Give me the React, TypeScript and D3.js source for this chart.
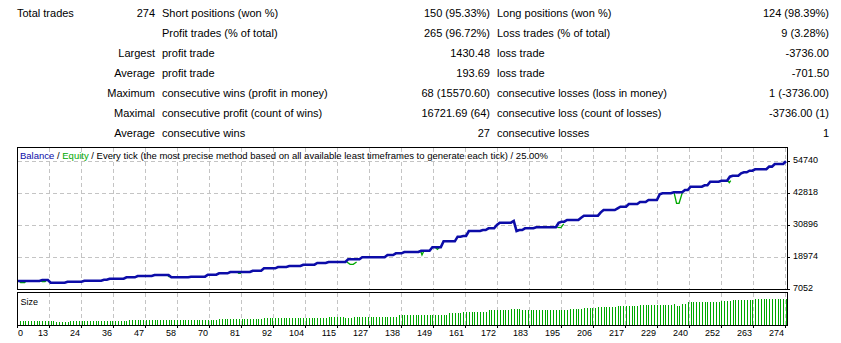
import React from 'react';
import * as d3 from 'd3';

// ---------- summary table ----------
const col0Left = ['Total trades', '', '', '', '', '', ''];
const col1Right = ['274', '', 'Largest', 'Average', 'Maximum', 'Maximal', 'Average'];
const col2Labels = [
  'Short positions (won %)',
  'Profit trades (% of total)',
  'profit trade',
  'profit trade',
  'consecutive wins (profit in money)',
  'consecutive profit (count of wins)',
  'consecutive wins',
];
const col2Values = ['150 (95.33%)', '265 (96.72%)', '1430.48', '193.69', '68 (15570.60)', '16721.69 (64)', '27'];
const col3Labels = [
  'Long positions (won %)',
  'Loss trades (% of total)',
  'loss trade',
  'loss trade',
  'consecutive losses (loss in money)',
  'consecutive loss (count of losses)',
  'consecutive losses',
];
const col3Values = ['124 (98.39%)', '9 (3.28%)', '-3736.00', '-701.50', '1 (-3736.00)', '-3736.00 (1)', '1'];

// ---------- chart data ----------
const yTicks = [7052, 18974, 30896, 42818, 54740];
const xTickLabels = ['0', '13', '24', '36', '47', '58', '70', '81', '92', '104', '115', '127', '138', '149', '161', '172', '183', '195', '206', '217', '229', '240', '252', '263', '274'];
const totalTrades = 274;

// balance levels: trade index where a level starts, and the balance value
const balTrade = [0, 9, 12, 18, 24, 31, 33, 39, 43, 49, 55, 62, 68, 72, 76, 84, 88, 93, 97, 102, 107, 111, 118, 123, 132, 135, 138, 144, 148, 152, 157, 159, 161, 166, 168, 171, 172, 177, 178, 179, 181, 185, 193, 194, 196, 201, 202, 208, 209, 214, 215, 218, 222, 225, 229, 230, 234, 238, 240, 245, 247, 251, 254, 255, 258, 259, 261, 263, 268, 270, 274];
const balValue = [10030, 10400, 9400, 9770, 10140, 10520, 10890, 11410, 11900, 12270, 11450, 11640, 12380, 12900, 13390, 13870, 14760, 15250, 15620, 16100, 16740, 17110, 18120, 18860, 19720, 20350, 20840, 21320, 22590, 24820, 26540, 26800, 28660, 29030, 29670, 30900, 31750, 32390, 28660, 29030, 29670, 30040, 31750, 32130, 32760, 33620, 34360, 35600, 36480, 37100, 37710, 38720, 39460, 40210, 42330, 42710, 43080, 43940, 45170, 45690, 47030, 47400, 48890, 49260, 50150, 50530, 51120, 51650, 52640, 53640, 54630];

// equity drawdowns (visible below balance)
const dipTrades = [[0.8, 1.3, 2.7, 3.2], [8.5, 9, 10, 10.5], [53.6, 54.1, 54.8], [78.6, 79, 79.6, 80], [117.5, 118.7, 119.8, 121], [143.8, 144.3, 145], [149, 149.8, 150.6], [192.5, 193.8, 194.8], [234.1, 235, 235.9, 237.1], [253.2, 253.8, 254.3]];
const dipValues = [[10030, 9400, 9400, 10030], [10030, 9770, 9770, 10400], [12270, 11640, 11640], [13390, 12900, 12900, 13390], [17110, 16250, 16250, 17110], [21320, 19720, 21320], [22590, 21840, 22590], [30040, 29900, 31300], [43080, 39000, 38980, 43080], [47400, 46650, 47400]];

// lot size runs: first trade of run, lot size
const sizeRunStart = [1, 14, 19, 40, 72, 88, 111, 117, 120, 136, 148, 154, 159, 168, 176, 180, 197, 202, 207, 214, 218, 222, 234, 235, 237, 239, 251, 255, 263];
const sizeRunLots = [0.4, 0.3, 0.4, 0.5, 0.6, 0.7, 0.8, 0.75, 0.85, 1.0, 1.05, 1.2, 1.35, 1.5, 1.6, 1.5, 1.6, 1.67, 1.77, 1.87, 1.9, 2.0, 2.1, 1.9, 2.1, 2.27, 2.37, 2.5, 2.63];

const FONT = "Tahoma, 'Liberation Sans', Arial, sans-serif";
const BLUE = '#0c0ca8';
const GREEN = '#00a800';
const GRID = '#c4c4c4';

export default function App() {
  const W = 841, H = 343;
  const L = 17, R = 788, T = 147, B = 289, ST = 292, SB = 325;

  const xTrade = d3.scaleLinear().domain([0, totalTrades]).range([17, 786]);
  const xGrid = d3.scaleLinear().domain([0, xTickLabels.length - 1]).range([L, 785]);
  const yBal = d3.scaleLinear().domain([yTicks[0], yTicks[yTicks.length - 1]]).range([B, 161]);
  const ySize = d3.scaleLinear().domain([0, 3.3]).range([SB, ST]);

  // balance polyline
  const balPts: [number, number][] = [];
  balTrade.forEach((t, i) => {
    balPts.push([t, balValue[i]]);
    if (i < balTrade.length - 1 && balTrade[i + 1] - 1 > t) balPts.push([balTrade[i + 1] - 1, balValue[i]]);
  });
  const line = d3.line<[number, number]>().x((d) => xTrade(d[0])).y((d) => yBal(d[1]));
  const balPath = line(balPts) || '';
  const dipPaths = dipTrades.map((ts, i) => line(ts.map((t, j) => [t, dipValues[i][j]] as [number, number])) || '');

  // lot sizes per trade from runs
  const sizes: { t: number; lot: number }[] = [];
  for (let t = 1; t <= totalTrades; t++) {
    let idx = 0;
    for (let k = 0; k < sizeRunStart.length; k++) if (sizeRunStart[k] <= t) idx = k;
    sizes.push({ t, lot: sizeRunLots[idx] });
  }

  const rowY = (i: number) => 17 + i * 20;

  return (
    <svg width={W} height={H} style={{ position: 'absolute', left: 0, top: 0, background: '#fff' }} fontFamily={FONT}>
      <rect x={0} y={0} width={W} height={H} fill="#fff" />
      {/* table */}
      <g fontSize={11} fill="#000">
        {col0Left.map((s, i) => (s ? <text key={'a' + i} x={17} y={rowY(i)}>{s}</text> : null))}
        {col1Right.map((s, i) => (s ? <text key={'b' + i} x={155} y={rowY(i)} textAnchor="end">{s}</text> : null))}
        {col2Labels.map((s, i) => <text key={'c' + i} x={162} y={rowY(i)}>{s}</text>)}
        {col2Values.map((s, i) => <text key={'d' + i} x={490} y={rowY(i)} textAnchor="end">{s}</text>)}
        {col3Labels.map((s, i) => <text key={'e' + i} x={497} y={rowY(i)}>{s}</text>)}
        {col3Values.map((s, i) => <text key={'f' + i} x={829} y={rowY(i)} textAnchor="end">{s}</text>)}
      </g>

      {/* grid main */}
      <g stroke={GRID} strokeDasharray="4,3" strokeWidth={1}>
        {yTicks.slice(1).map((v) => (
          <line key={'h' + v} x1={L + 1} x2={R - 1} y1={Math.round(yBal(v)) + 0.5} y2={Math.round(yBal(v)) + 0.5} />
        ))}
        {xTickLabels.slice(1).map((s, i) => {
          const x = Math.round(xGrid(i + 1)) + 0.5;
          return (
            <g key={'v' + i}>
              <line x1={x} x2={x} y1={T + 1} y2={B} />
              <line x1={x} x2={x} y1={ST + 1} y2={SB} />
            </g>
          );
        })}
      </g>

      {/* title */}
      <text x={20} y={158.5} fontSize={9.5}>
        <tspan fill={BLUE}>Balance</tspan>
        <tspan fill="#000"> / </tspan>
        <tspan fill={GREEN}>Equity</tspan>
        <tspan fill="#000"> / Every tick (the most precise method based on all available least timeframes to generate each tick) / 25.00%</tspan>
      </text>

      {/* equity and balance */}
      <g fill="none">
        {dipPaths.map((d, i) => <path key={'e' + i} d={d} stroke={GREEN} strokeWidth={1.3} />)}
        <path d={balPath} stroke={BLUE} strokeWidth={2.6} strokeLinejoin="miter" />
      </g>

      {/* frames */}
      <rect x={L + 0.5} y={T + 0.5} width={R - L - 1} height={B - T} fill="none" stroke="#000" />
      <rect x={L + 0.5} y={ST + 0.5} width={R - L - 1} height={SB - ST} fill="none" stroke="#000" />

      {/* y axis */}
      <g fontSize={9} fill="#000">
        {yTicks.map((v) => {
          const y = Math.round(yBal(v));
          return (
            <g key={'y' + v}>
              <line x1={R} x2={R + 2} y1={y + 0.5} y2={y + 0.5} stroke="#000" />
              <text x={793} y={y + 2}>{v}</text>
            </g>
          );
        })}
      </g>

      {/* size panel */}
      <text x={20.5} y={305} fontSize={9}>Size</text>
      <g fill={GREEN} shapeRendering="crispEdges">
        {sizes.map((d) => {
          const top = Math.round(ySize(d.lot));
          return <rect key={'s' + d.t} x={Math.round(xTrade(d.t))} y={top} width={1} height={SB - top} />;
        })}
      </g>

      {/* x axis */}
      <g fontSize={9} fill="#000">
        {xTickLabels.map((s, i) => {
          const x = Math.round(xGrid(i)) + 0.5;
          return (
            <g key={'x' + i}>
              <line x1={x} x2={x} y1={SB + 1} y2={SB + 3} stroke="#000" />
              {i === 0 ? (
                <text x={18} y={336}>{s}</text>
              ) : (
                <text x={x - 1.5} y={336} textAnchor="end">{s}</text>
              )}
            </g>
          );
        })}
      </g>
    </svg>
  );
}
